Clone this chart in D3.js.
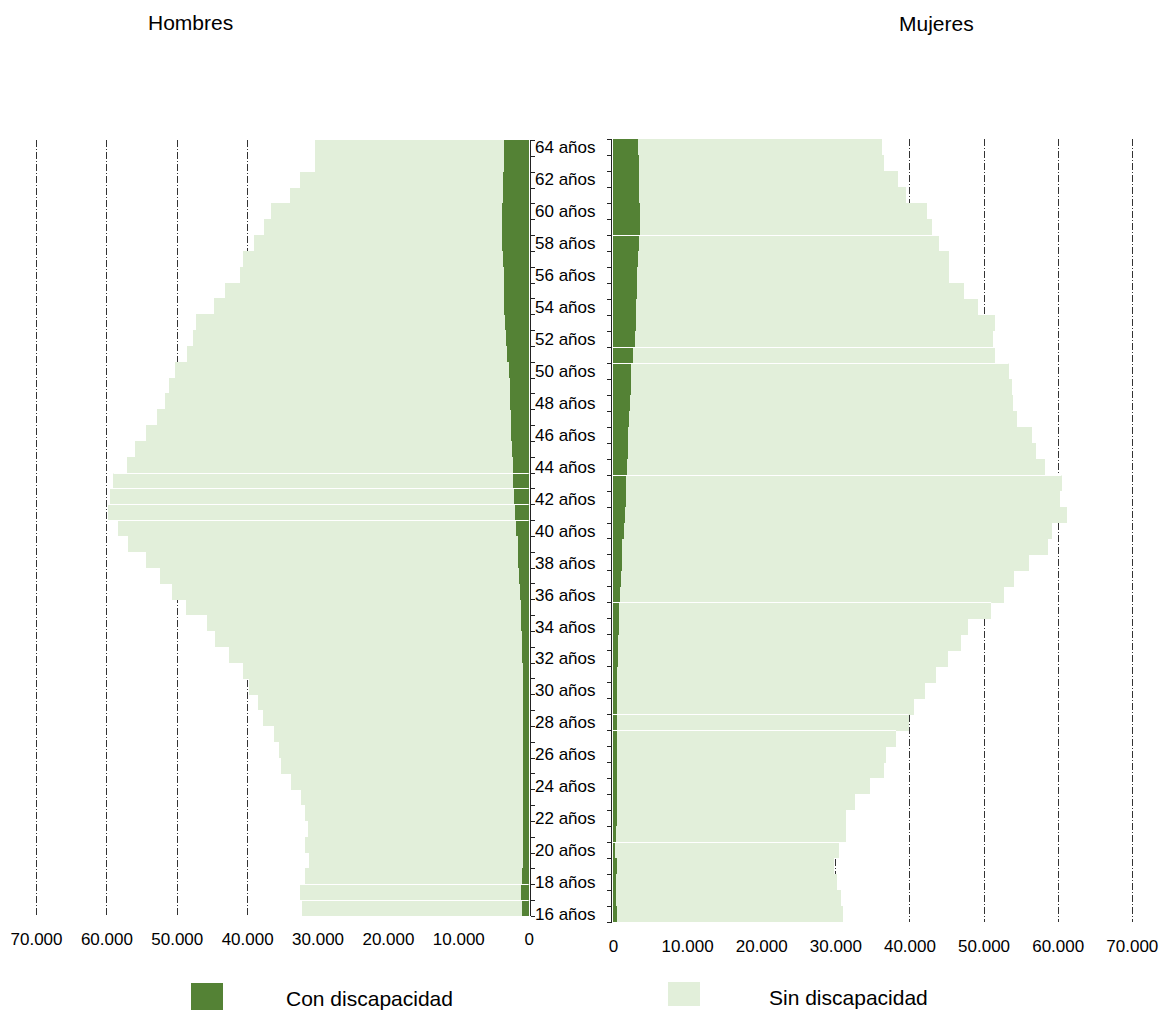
<!DOCTYPE html>
<html>
<head>
<meta charset="utf-8">
<script src="https://cdn.jsdelivr.net/npm/d3@7"></script>
<style>
  html, body { margin: 0; padding: 0; background: #fff; }
  svg { display: block; font-family: "Liberation Sans", Arial, sans-serif; }
</style>
</head>
<body>
<svg id="chart" width="1160" height="1010"></svg>
<script>
// ---- Data (ages 16 → 64) ----
const ages = [16,17,18,19,20,21,22,23,24,25,26,27,28,29,30,31,32,33,34,35,36,37,38,39,40,
              41,42,43,44,45,46,47,48,49,50,51,52,53,54,55,56,57,58,59,60,61,62,63,64];
const ageLabels = [16,18,20,22,24,26,28,30,32,34,36,38,40,42,44,46,48,50,52,54,56,58,60,62,64];

const hombresCon = [1000,1100,900,850,820,800,780,760,750,750,750,750,750,750,800,850,950,960,1070,1120,
                    1240,1350,1460,1570,1750,1970,2130,2200,2300,2360,2470,2550,2700,2650,2800,3100,3200,3300,
                    3480,3500,3550,3600,3760,3760,3760,3650,3650,3500,3500];
const hombresSin = [31200,31400,30900,30400,31000,30500,31000,31600,33000,34500,34700,35400,37000,37700,38900,
                    39800,41600,43600,44600,47600,49500,51100,52900,55300,56600,57800,57400,56800,54800,53600,
                    51900,50300,49000,48400,47400,45400,44500,43900,41300,39700,37500,37000,35300,33800,32800,
                    30300,28900,26800,26900];
const mujeresCon = [500,450,450,480,300,450,480,480,480,480,480,480,480,500,550,550,660,720,830,830,
                    990,1050,1160,1270,1490,1600,1760,1820,1930,2040,2090,2200,2310,2370,2480,2750,2920,3080,
                    3080,3190,3300,3400,3520,3630,3690,3520,3450,3470,3400];
const mujeresSin = [30500,30300,29800,29300,30200,31000,30900,32200,34200,36100,36400,37700,39400,40100,41600,
                    43000,44500,46300,47100,50200,51800,53100,55000,57400,57800,59700,58600,58700,56300,55100,
                    54500,52300,51600,51400,50900,48800,48300,48400,46200,44200,42100,41900,40500,39400,38700,
                    36000,35000,33100,32900];

const xTicks = [0,10000,20000,30000,40000,50000,60000,70000];
const titles = ["Hombres","Mujeres"];
const seriesNames = ["Con discapacidad","Sin discapacidad"];
// rows whose top edge shows a thin white seam in the original
const seamsHombres = [43,42,41,40,17,16];
const seamsMujeres = [58,51,50,43,35,28,27,20];

// ---- Styles ----
const cDark = "#548235", cLight = "#E2EFDA";
const svg = d3.select("#chart");

const loc = d3.formatLocale({decimal: ",", thousands: ".", grouping: [3], currency: ["", "€"]});
const fmt = loc.format(",d");

// Scales
const xL = d3.scaleLinear().domain([0,70000]).range([528.7, 36]);
const xR = d3.scaleLinear().domain([0,70000]).range([613, 1131.8]);
const yL = d3.scaleBand().domain(ages).range([916,140]).padding(0);
const yR = d3.scaleBand().domain(ages).range([922,139]).padding(0);

const rowsH = ages.map((a,i)=>({age:a, con:hombresCon[i], sin:hombresSin[i]}));
const rowsM = ages.map((a,i)=>({age:a, con:mujeresCon[i], sin:mujeresSin[i]}));

// Gridlines
const grid = svg.append("g").attr("stroke", "#333").attr("stroke-width", 1)
  .attr("stroke-dasharray", "7,2,1,2");
grid.selectAll("line.gl").data(xTicks.slice(1)).join("line")
  .attr("x1", d => Math.round(xL(d)) + 0.5).attr("x2", d => Math.round(xL(d)) + 0.5)
  .attr("y1", 140).attr("y2", 916);
grid.selectAll("line.gr").data(xTicks.slice(1)).join("line").attr("class","gr")
  .attr("x1", d => Math.round(xR(d)) + 0.5).attr("x2", d => Math.round(xR(d)) + 0.5)
  .attr("y1", 139).attr("y2", 922);

// Bars – left (Hombres)
const gL = svg.append("g").attr("shape-rendering", "crispEdges");
gL.selectAll("rect.sin").data(rowsH).join("rect").attr("class","sin")
  .attr("x", d => xL(d.con + d.sin)).attr("width", d => xL(d.con) - xL(d.con + d.sin))
  .attr("y", d => yL(d.age)).attr("height", yL.bandwidth() + 0.3)
  .attr("fill", cLight);
gL.selectAll("rect.con").data(rowsH).join("rect").attr("class","con")
  .attr("x", d => xL(d.con)).attr("width", d => xL(0) - xL(d.con))
  .attr("y", d => yL(d.age)).attr("height", yL.bandwidth() + 0.3)
  .attr("fill", cDark);

// Bars – right (Mujeres)
const gR = svg.append("g").attr("shape-rendering", "crispEdges");
gR.selectAll("rect.sin").data(rowsM).join("rect").attr("class","sin")
  .attr("x", d => xR(d.con)).attr("width", d => xR(d.con + d.sin) - xR(d.con))
  .attr("y", d => yR(d.age)).attr("height", yR.bandwidth() + 0.3)
  .attr("fill", cLight);
gR.selectAll("rect.con").data(rowsM).join("rect").attr("class","con")
  .attr("x", d => xR(0)).attr("width", d => xR(d.con) - xR(0))
  .attr("y", d => yR(d.age)).attr("height", yR.bandwidth() + 0.3)
  .attr("fill", cDark);

// Thin white seams
const byAgeH = new Map(rowsH.map(d => [d.age, d]));
const byAgeM = new Map(rowsM.map(d => [d.age, d]));
svg.append("g").attr("stroke", "#fff").attr("stroke-width", 1)
  .selectAll("line").data(seamsHombres).join("line")
  .attr("x1", a => xL(byAgeH.get(a).con + byAgeH.get(a).sin)).attr("x2", xL(0))
  .attr("y1", a => Math.round(yL(a)) + 0.5).attr("y2", a => Math.round(yL(a)) + 0.5);
svg.append("g").attr("stroke", "#fff").attr("stroke-width", 1)
  .selectAll("line").data(seamsMujeres).join("line")
  .attr("x1", xR(0)).attr("x2", a => xR(byAgeM.get(a).con + byAgeM.get(a).sin))
  .attr("y1", a => Math.round(yR(a)) + 0.5).attr("y2", a => Math.round(yR(a)) + 0.5);

// Category axis lines with ticks at band boundaries
const axLine = svg.append("g").attr("stroke", "#222").attr("stroke-width", 1).attr("shape-rendering","crispEdges");
axLine.append("line").attr("x1", 530.5).attr("x2", 530.5).attr("y1", yL.range()[1]).attr("y2", yL.range()[0]);
const boundsL = ages.map(a => yL(a)).concat([yL.range()[0]]);
axLine.selectAll("line.tl").data(boundsL).join("line").attr("class","tl")
  .attr("x1", 530.5).attr("x2", 535).attr("y1", d => Math.round(d) + 0.5).attr("y2", d => Math.round(d) + 0.5);
axLine.append("line").attr("x1", 611.5).attr("x2", 611.5).attr("y1", yR.range()[1]).attr("y2", yR.range()[0]);
const boundsR = ages.map(a => yR(a)).concat([yR.range()[0]]);
axLine.selectAll("line.tr").data(boundsR).join("line").attr("class","tr")
  .attr("x1", 607).attr("x2", 611.5).attr("y1", d => Math.round(d) + 0.5).attr("y2", d => Math.round(d) + 0.5);

// Age labels
const ageAxis = svg.append("g").attr("transform", "translate(535,0)")
  .call(d3.axisRight(yR).tickValues(ageLabels).tickSize(0).tickPadding(0).tickFormat(d => d + " años"));
ageAxis.select(".domain").remove();
ageAxis.selectAll("text").attr("font-size", 17).attr("font-family", "Liberation Sans, Arial, sans-serif")
  .attr("fill", "#000").attr("dy", "0.36em");

// X axes (values)
const axL = svg.append("g").attr("transform", "translate(0,933)")
  .call(d3.axisBottom(xL).tickValues(xTicks).tickSize(0).tickPadding(0).tickFormat(fmt));
axL.select(".domain").remove();
axL.selectAll("text").attr("font-size", 17).attr("font-family", "Liberation Sans, Arial, sans-serif").attr("fill", "#000");
const axR = svg.append("g").attr("transform", "translate(0,939.5)")
  .call(d3.axisBottom(xR).tickValues(xTicks).tickSize(0).tickPadding(0).tickFormat(fmt));
axR.select(".domain").remove();
axR.selectAll("text").attr("font-size", 17).attr("font-family", "Liberation Sans, Arial, sans-serif").attr("fill", "#000");

// Titles
svg.append("text").attr("x", 148).attr("y", 29.5).attr("font-size", 21).attr("fill", "#000").text(titles[0]);
svg.append("text").attr("x", 899).attr("y", 31).attr("font-size", 21).attr("fill", "#000").text(titles[1]);

// Legend
svg.append("rect").attr("x", 191).attr("y", 983).attr("width", 32).attr("height", 30).attr("fill", cDark);
svg.append("text").attr("x", 286).attr("y", 1006).attr("font-size", 21).attr("fill", "#000").text(seriesNames[0]);
svg.append("rect").attr("x", 668).attr("y", 982).attr("width", 32).attr("height", 24).attr("fill", cLight);
svg.append("text").attr("x", 769).attr("y", 1005).attr("font-size", 21).attr("fill", "#000").text(seriesNames[1]);
</script>
</body>
</html>
